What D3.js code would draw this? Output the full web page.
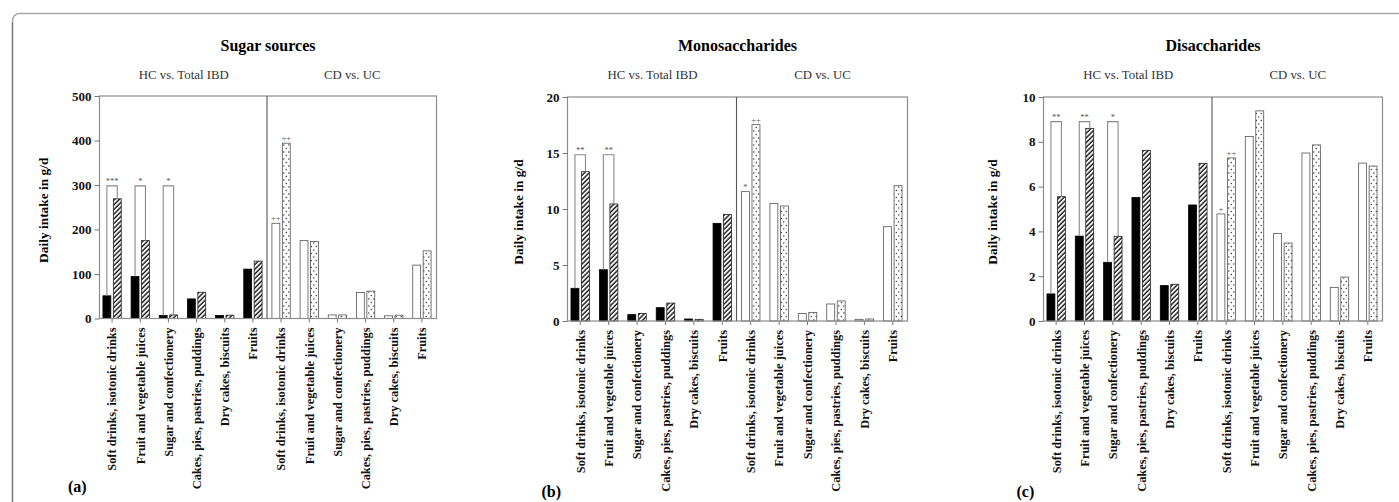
<!DOCTYPE html>
<html>
<head>
<meta charset="utf-8">
<script src="https://cdn.jsdelivr.net/npm/d3@7.9.0/dist/d3.min.js"></script>
<style>
  body { margin: 0; background: #fff; }
  svg { display: block; }
  svg text { font-family: "Liberation Serif", "Times New Roman", serif; }
</style>
</head>
<body>
<svg id="chart" width="1399" height="502"></svg>
<script>
const categories = [
  "Soft drinks, isotonic drinks",
  "Fruit and vegetable juices",
  "Sugar and confectionery",
  "Cakes, pies, pastries, puddings",
  "Dry cakes, biscuits",
  "Fruits"
];
const sections = ["HC vs. Total IBD", "CD vs. UC"];

// (a) sugar sources
const sugarHC  = [51, 94.5, 7, 44, 7, 111];
const sugarIBD = [269, 175, 8, 59, 7.5, 129];
const sugarCD  = [214, 175, 8, 58.5, 6, 120];
const sugarUC  = [394, 173, 8, 61.5, 7.5, 152];
const sugarTicks = [0, 100, 200, 300, 400, 500];
const sugarHCSig = ["***", "*", "*", "", "", ""];
const sugarCDSig = ["++", "", "", "", "", ""];
const sugarUCSig = ["++", "", "", "", "", ""];

// (b) monosaccharides
const monoHC  = [2.92, 4.58, 0.57, 1.19, 0.18, 8.72];
const monoIBD = [13.33, 10.45, 0.68, 1.6, 0.15, 9.52];
const monoCD  = [11.55, 10.5, 0.68, 1.52, 0.15, 8.42];
const monoUC  = [17.53, 10.27, 0.77, 1.79, 0.18, 12.08];
const monoTicks = [0, 5, 10, 15, 20];
const monoHCSig = ["**", "**", "", "", "", ""];
const monoCDSig = ["*", "", "", "", "", ""];
const monoUCSig = ["++", "", "", "", "", ""];

// (c) disaccharides
const diHC  = [1.21, 3.79, 2.62, 5.51, 1.58, 5.18];
const diIBD = [5.55, 8.6, 3.78, 7.62, 1.64, 7.04];
const diCD  = [4.78, 8.24, 3.91, 7.5, 1.5, 7.05];
const diUC  = [7.28, 9.38, 3.48, 7.86, 1.96, 6.92];
const diTicks = [0, 2, 4, 6, 8, 10];
const diHCSig = ["**", "**", "*", "", "", ""];
const diCDSig = ["+", "", "", "", "", ""];
const diUCSig = ["++", "", "", "", "", ""];

const panels = [
  { title: "Sugar sources", letter: "(a)", hc: sugarHC, ibd: sugarIBD, cd: sugarCD, uc: sugarUC,
    ticks: sugarTicks, bracket: 298, hcSig: sugarHCSig, cdSig: sugarCDSig, ucSig: sugarUCSig,
    left: 99.5, right: 436.5, top: 96, bottom: 318.5, yLabelX: 43, letterX: 68, letterY: 492 },
  { title: "Monosaccharides", letter: "(b)", hc: monoHC, ibd: monoIBD, cd: monoCD, uc: monoUC,
    ticks: monoTicks, bracket: 14.85, hcSig: monoHCSig, cdSig: monoCDSig, ucSig: monoUCSig,
    left: 567.5, right: 907.5, top: 97, bottom: 321, yLabelX: 518, letterX: 541.5, letterY: 497 },
  { title: "Disaccharides", letter: "(c)", hc: diHC, ibd: diIBD, cd: diCD, uc: diUC,
    ticks: diTicks, bracket: 8.9, hcSig: diHCSig, cdSig: diCDSig, ucSig: diUCSig,
    left: 1043.5, right: 1382.5, top: 97, bottom: 321, yLabelX: 992.5, letterX: 1016.5, letterY: 497 }
];

const FONT = "Liberation Serif, Times New Roman, serif";
const svg = d3.select("#chart");

// outer frame: lighter top edge, darker left edge
svg.append("path")
  .attr("d", "M12.5,520V21A7,7 0 0 1 19.5,13.5H1420")
  .attr("fill", "none").attr("stroke", "#a8a8a8").attr("stroke-width", 1.4);
svg.append("line")
  .attr("x1", 12.5).attr("x2", 12.5).attr("y1", 22).attr("y2", 520)
  .attr("stroke", "#7a7a7a").attr("stroke-width", 1.3);

const defs = svg.append("defs");
const hatch = defs.append("pattern")
  .attr("id", "hatch")
  .attr("patternUnits", "userSpaceOnUse")
  .attr("width", 3.3).attr("height", 3.3)
  .attr("patternTransform", "rotate(45)");
hatch.append("rect").attr("width", 3.3).attr("height", 3.3).attr("fill", "#fff");
hatch.append("line")
  .attr("x1", 1).attr("y1", 0).attr("x2", 1).attr("y2", 3.3)
  .attr("stroke", "#111").attr("stroke-width", 1.4);

const dots = defs.append("pattern")
  .attr("id", "dots")
  .attr("patternUnits", "userSpaceOnUse")
  .attr("width", 5).attr("height", 7);
dots.append("rect").attr("width", 5).attr("height", 7).attr("fill", "#fff");
dots.append("circle").attr("cx", 1.3).attr("cy", 1.5).attr("r", 0.65).attr("fill", "#222");
dots.append("circle").attr("cx", 3.8).attr("cy", 5).attr("r", 0.65).attr("fill", "#222");

function drawPanel(p) {
  const g = svg.append("g");
  const n = categories.length;
  const x = d3.scaleBand()
    .domain(d3.range(n * 2))
    .range([p.left - 1.5, p.right - 0.5]);
  const y = d3.scaleLinear()
    .domain([0, d3.max(p.ticks)])
    .range([p.bottom, p.top]);
  const step = x.step();
  const barW = step * 0.28;
  const gap = step * 0.09;
  const center = i => x(i) + step / 2;
  const mid = (p.left + p.right) / 2;

  // title and section heads
  g.append("text")
    .attr("x", mid).attr("y", 50.5)
    .attr("text-anchor", "middle")
    .attr("font-family", FONT)
    .attr("font-weight", "bold").attr("font-size", 16)
    .text(p.title);
  [[(p.left + mid) / 2, sections[0]], [(mid + p.right) / 2, sections[1]]].forEach(([cx, t]) => {
    g.append("text")
      .attr("x", cx).attr("y", 78.5)
      .attr("text-anchor", "middle")
      .attr("font-family", FONT)
      .attr("font-size", 12.8).attr("fill", "#333")
      .text(t);
  });

  // bars
  const rows = [];
  categories.forEach((c, i) => {
    rows.push({ i: i, a: p.hc[i], b: p.ibd[i], fa: "#000", fb: "url(#hatch)", sa: "#000", sb: "#222", sigA: p.hcSig[i], sigB: "" });
  });
  categories.forEach((c, i) => {
    rows.push({ i: n + i, a: p.cd[i], b: p.uc[i], fa: "#fff", fb: "url(#dots)", sa: "#555", sb: "#555", sigA: p.cdSig[i], sigB: p.ucSig[i] });
  });

  const sigText = (sx, sy, t) => g.append("text")
    .attr("x", sx).attr("y", sy)
    .attr("text-anchor", "middle")
    .attr("font-family", FONT)
    .attr("font-size", 8.5).attr("fill", "#555")
    .text(t);

  rows.forEach(r => {
    const c = center(r.i);
    const xa = c - gap / 2 - barW;
    const xb = c + gap / 2;
    g.append("rect")
      .attr("x", xa).attr("y", y(r.a))
      .attr("width", barW).attr("height", y(0) - y(r.a))
      .attr("fill", r.fa).attr("stroke", r.sa).attr("stroke-width", 0.8);
    g.append("rect")
      .attr("x", xb).attr("y", y(r.b))
      .attr("width", barW).attr("height", y(0) - y(r.b))
      .attr("fill", r.fb).attr("stroke", r.sb).attr("stroke-width", 0.8);

    if (r.i < n && r.sigA) {
      // bracket for HC vs. IBD significance
      const ca = xa + barW / 2, cb = xb + barW / 2;
      g.append("path")
        .attr("d", `M${ca},${y(r.a)}V${y(p.bracket)}H${cb}V${y(r.b)}`)
        .attr("fill", "none").attr("stroke", "#8a8a8a").attr("stroke-width", 1.1);
      sigText((ca + cb) / 2, y(p.bracket) - 1.5, r.sigA);
    } else if (r.sigA) {
      sigText(xa + barW / 2, y(r.a) - 2, r.sigA);
    }
    if (r.sigB) sigText(xb + barW / 2, y(r.b) - 2, r.sigB);
  });

  // plot frame and divider
  g.append("rect")
    .attr("x", p.left).attr("y", p.top)
    .attr("width", p.right - p.left).attr("height", p.bottom - p.top)
    .attr("fill", "none").attr("stroke", "#8c8c8c").attr("stroke-width", 1.2);
  const div = x(n);
  g.append("line")
    .attr("x1", div).attr("x2", div)
    .attr("y1", p.top).attr("y2", p.bottom)
    .attr("stroke", "#555").attr("stroke-width", 1.1);

  // y axis
  const yAxis = g.append("g")
    .attr("transform", `translate(${p.left},0)`)
    .call(d3.axisLeft(y).tickValues(p.ticks).tickSize(5).tickPadding(3));
  yAxis.select(".domain").remove();
  yAxis.selectAll(".tick line").attr("stroke", "#777");
  yAxis.selectAll(".tick text")
    .attr("font-family", FONT)
    .attr("font-weight", "bold").attr("font-size", 13).attr("fill", "#111");

  // x ticks and rotated category names
  const xLabels = categories.concat(categories);
  xLabels.forEach((t, i) => {
    const c = center(i);
    g.append("line")
      .attr("x1", c).attr("x2", c).attr("y1", p.bottom).attr("y2", p.bottom + 4)
      .attr("stroke", "#777");
    g.append("text")
      .attr("transform", `translate(${c},${p.bottom + 9}) rotate(-90)`)
      .attr("text-anchor", "end")
      .attr("dy", "0.35em")
      .attr("font-family", FONT)
      .attr("font-weight", "bold").attr("font-size", 12.4).attr("fill", "#111")
      .text(t);
  });

  // y axis title
  g.append("text")
    .attr("transform", `translate(${p.yLabelX},${(p.top + p.bottom) / 2 + 3}) rotate(-90)`)
    .attr("text-anchor", "middle")
    .attr("dy", "0.35em")
    .attr("font-family", FONT)
    .attr("font-weight", "bold").attr("font-size", 13.4)
    .text("Daily intake in g/d");

  // panel letter
  g.append("text")
    .attr("x", p.letterX).attr("y", p.letterY)
    .attr("font-family", FONT)
    .attr("font-weight", "bold").attr("font-size", 16)
    .text(p.letter);
}

panels.forEach(drawPanel);
</script>
</body>
</html>
